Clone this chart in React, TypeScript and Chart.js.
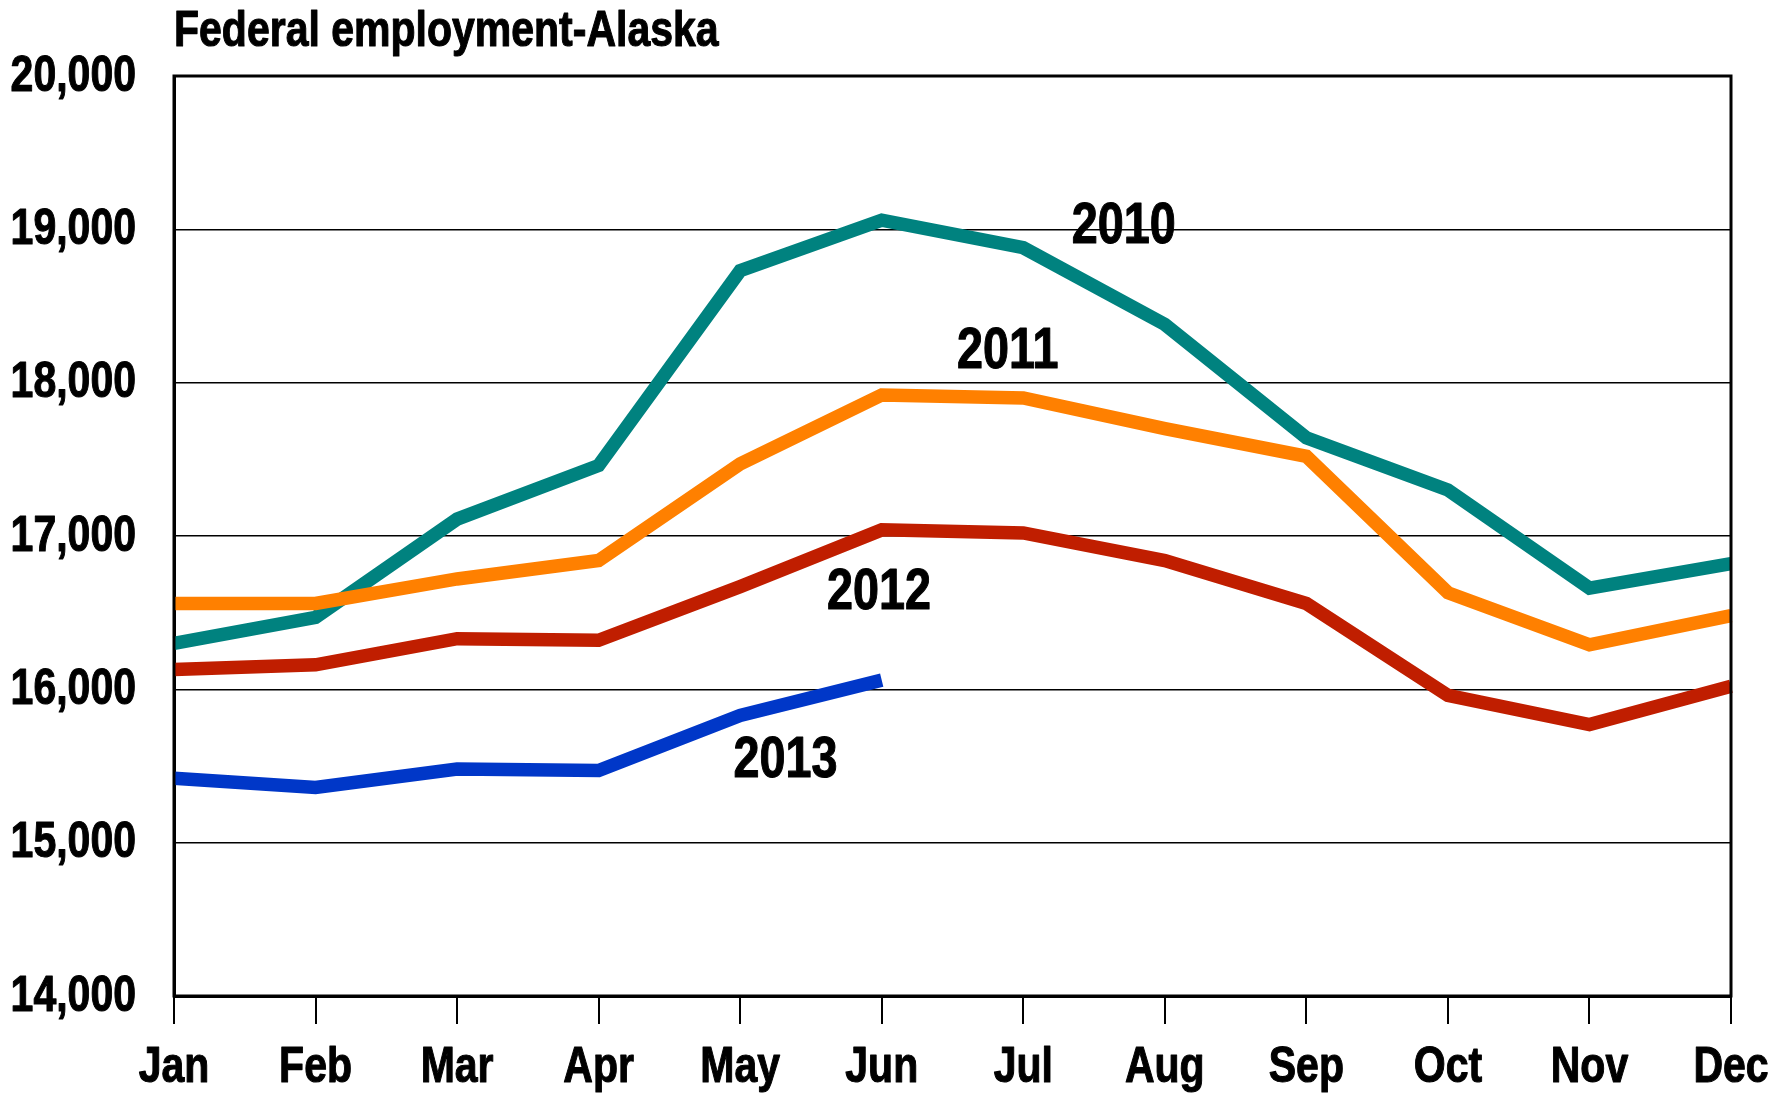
import React, { useEffect, useRef } from "react";
import { Chart, registerables } from "chart.js";

Chart.register(...registerables);

const title = "Federal employment-Alaska";
const months = ["Jan", "Feb", "Mar", "Apr", "May", "Jun", "Jul", "Aug", "Sep", "Oct", "Nov", "Dec"];
const series2010 = [16300, 16470, 17110, 17460, 18730, 19060, 18880, 18380, 17640, 17300, 16660, 16820];
const series2011 = [16560, 16560, 16720, 16840, 17470, 17920, 17900, 17700, 17520, 16630, 16290, 16480];
const series2012 = [16130, 16160, 16330, 16320, 16670, 17040, 17020, 16840, 16560, 15960, 15770, 16020];
const series2013 = [15420, 15360, 15480, 15470, 15830, 16060];
const yTicks = [14000, 15000, 16000, 17000, 18000, 19000, 20000];
const yearNames = ["2010", "2011", "2012", "2013"];
const yearColors = ["#00827F", "#FF8000", "#C01E00", "#0037C8"];
const yearLabelIdx = [6.71, 5.89, 4.98, 4.32];
const yearLabelVal = [19015, 18200, 16628, 15532];

const FONT = '"Liberation Sans", Arial, sans-serif';
const NARROW = 0.82;

function narrowText(ctx: any, text: string, x: number, y: number, size: number, align: string) {
  ctx.save();
  ctx.font = `bold ${size}px ${FONT}`;
  ctx.textAlign = align;
  ctx.textBaseline = "middle";
  ctx.fillStyle = "#000";
  ctx.strokeStyle = "#000";
  ctx.lineWidth = 1.1;
  ctx.lineJoin = "round";
  ctx.translate(x, y);
  ctx.scale(NARROW, 1);
  ctx.fillText(text, 0, 0);
  ctx.strokeText(text, 0, 0);
  ctx.restore();
}

const overlay = {
  id: "overlay",
  afterDatasetsDraw(chart: any) {
    const { ctx, chartArea } = chart;
    ctx.save();
    ctx.strokeStyle = "#000";
    ctx.lineWidth = 3;
    ctx.strokeRect(chartArea.left, chartArea.top, chartArea.right - chartArea.left, chartArea.bottom - chartArea.top);
    ctx.restore();
    const xs = chart.scales.x;
    const ys = chart.scales.y;
    yearNames.forEach((n, i) => {
      narrowText(ctx, n, xs.getPixelForValue(yearLabelIdx[i]), ys.getPixelForValue(yearLabelVal[i]), 57, "center");
    });
    yTicks.forEach((v) => {
      narrowText(ctx, v.toLocaleString("en-US"), chartArea.left - 38, ys.getPixelForValue(v) + 1, 50, "right");
    });
    months.forEach((m, i) => {
      narrowText(ctx, m, xs.getPixelForValue(i), 1068, 50, "center");
    });
    narrowText(ctx, title, chartArea.left, 32, 50, "left");
  },
};

export default function App() {
  const ref = useRef<HTMLCanvasElement>(null);
  useEffect(() => {
    const seriesList = [series2010, series2011, series2012, series2013];
    const chart = new Chart(ref.current!, {
      type: "line",
      data: {
        labels: months,
        datasets: seriesList.map((s, i) => ({
          label: yearNames[i],
          data: s,
          borderColor: yearColors[i],
          backgroundColor: yearColors[i],
          borderWidth: 13.5,
          pointRadius: 0,
          tension: 0,
          borderCapStyle: "butt",
          borderJoinStyle: "miter",
          fill: false,
          order: 3 - i,
        })),
      },
      options: {
        responsive: false,
        devicePixelRatio: 1,
        animation: false,
        layout: { padding: { top: 76, right: 50, left: 0, bottom: 0 } },
        plugins: { legend: { display: false }, tooltip: { enabled: false }, title: { display: false } },
        scales: {
          x: {
            type: "category",
            offset: false,
            grid: { drawOnChartArea: false, drawTicks: true, tickLength: 28, color: "#000", lineWidth: 2 },
            border: { display: true, color: "#000", width: 3 },
            ticks: { display: false, autoSkip: false, maxRotation: 0 },
            afterFit: (s: any) => { s.height = 99; },
          },
          y: {
            min: 14000,
            max: 20000,
            afterBuildTicks: (s: any) => { s.ticks = yTicks.map((v) => ({ value: v })); },
            grid: { drawOnChartArea: true, drawTicks: false, color: "#000", lineWidth: 1.5 },
            border: { display: true, color: "#000", width: 3 },
            ticks: { display: false },
            afterFit: (s: any) => { s.width = 174; },
          },
        },
      },
      plugins: [overlay],
    });
    return () => chart.destroy();
  }, []);
  return (
    <div style={{ position: "fixed", left: 0, top: 0, width: 1781, height: 1095, background: "#fff" }}>
      <canvas ref={ref} width={1781} height={1095} />
    </div>
  );
}
